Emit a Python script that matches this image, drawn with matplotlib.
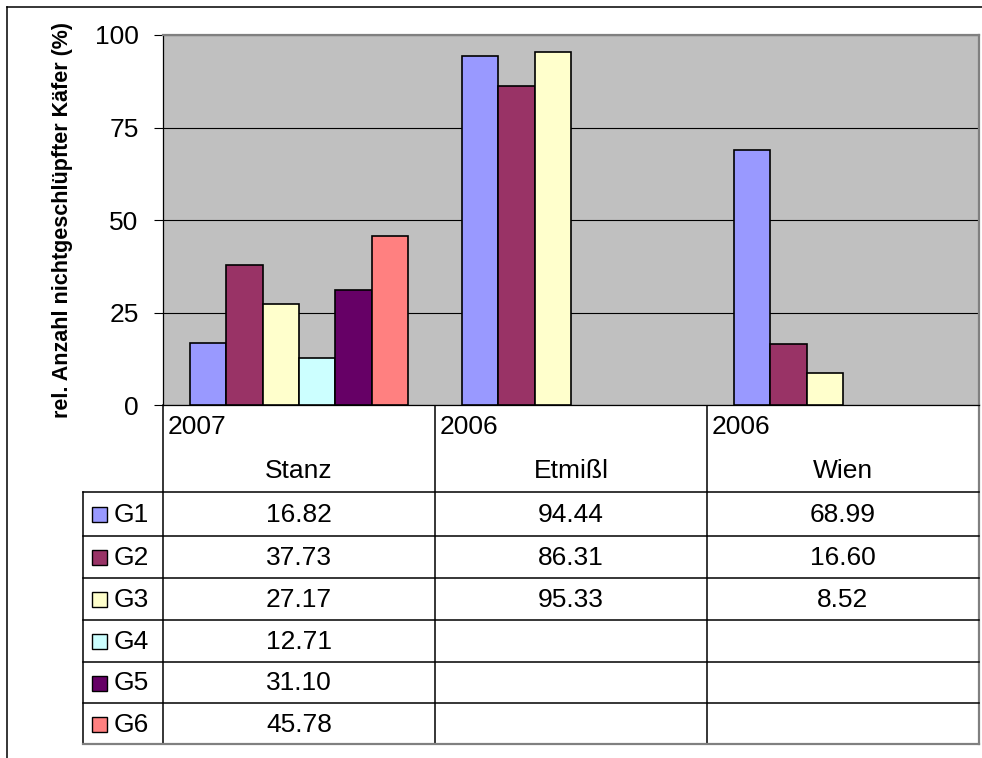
import numpy as np
import matplotlib.pyplot as plt

plt.rcParams['font.family'] = ['Liberation Sans', 'DejaVu Sans']

# data
sites = ['Stanz', 'Etmißl', 'Wien']
years = ['2007', '2006', '2006']
groups = ['G1', 'G2', 'G3', 'G4', 'G5', 'G6']
colors = ['#9999FF', '#993366', '#FFFFCC', '#CCFFFF', '#660066', '#FF8080']
g1 = [16.82, 94.44, 68.99]
g2 = [37.73, 86.31, 16.60]
g3 = [27.17, 95.33, 8.52]
g4 = [12.71, None, None]
g5 = [31.10, None, None]
g6 = [45.78, None, None]
values = [g1, g2, g3, g4, g5, g6]

W, H = 982, 758
FS = 19
fig = plt.figure(figsize=(W / 100, H / 100), dpi=100)


def box(l, t, r, b):
    # pixel box -> figure fractions
    return [l / W, 1 - b / H, (r - l) / W, (b - t) / H]


# plot area
ax = fig.add_axes(box(163, 35, 979, 405))
ax.set_facecolor('#C0C0C0')
x = np.arange(len(sites))
bw = 1 / (len(groups) + 1.5)
for i, (g, c, vals) in enumerate(zip(groups, colors, values)):
    v = np.array([np.nan if s is None else s for s in vals], dtype=float)
    ax.bar(x + (i - 2.5) * bw, v, bw, color=c, edgecolor='black',
           linewidth=1.2, zorder=3)

ax.set_xlim(-0.5, 2.5)
ax.set_ylim(0, 100)
ax.set_yticks([0, 25, 50, 75, 100])
ax.set_xticks([])
ax.yaxis.grid(True, color='black', linewidth=0.8, zorder=1)
ax.set_axisbelow(True)
ax.tick_params(axis='y', labelsize=FS, length=6.5, width=0.8, pad=11)
for s in ['top', 'right']:
    ax.spines[s].set_color('#808080')
    ax.spines[s].set_linewidth(1.6)
ax.spines['left'].set_linewidth(0.9)
ax.spines['bottom'].set_linewidth(0.9)
ax.set_ylabel('rel. Anzahl nichtgeschlüpfter Käfer (%)', fontsize=15.5,
              fontweight='bold', labelpad=16)

# data table underneath, drawn in pixel coordinates
ov = fig.add_axes([0, 0, 1, 1], zorder=-1)
ov.set_xlim(0, W)
ov.set_ylim(H, 0)
ov.axis('off')

cols = [163, 435, 707, 979]
rows = [492, 536, 578, 620, 662, 703, 744]
lk = dict(color='black', linewidth=1.1)

# outer frame
ov.plot([7, 7], [7, H], **lk)
ov.plot([7, W], [7, 7], **lk)

for cx in cols[:-1]:
    ov.plot([cx, cx], [405, rows[-1]], **lk)
ov.plot([cols[-1], cols[-1]], [405, rows[-1]], color='#808080', linewidth=1.6)
ov.plot([83, 83], [rows[0], rows[-1]], **lk)
for ry in rows[:-1]:
    ov.plot([83, cols[-1]], [ry, ry], **lk)
ov.plot([83, cols[-1]], [rows[-1], rows[-1]], color='#808080', linewidth=1.6)

for j, (site, yr) in enumerate(zip(sites, years)):
    ov.text(cols[j] + 5, 427, yr, fontsize=FS, ha='left', va='center')
    ov.text((cols[j] + cols[j + 1]) / 2, 471, site, fontsize=FS,
            ha='center', va='center')

for i, (g, c, vals) in enumerate(zip(groups, colors, values)):
    yc = (rows[i] + rows[i + 1]) / 2
    ov.add_patch(plt.Rectangle((92, yc - 7), 15, 15, facecolor=c,
                               edgecolor='black', linewidth=1.0))
    ov.text(114, yc + 1, g, fontsize=FS, ha='left', va='center')
    for j, v in enumerate(vals):
        if v is not None:
            ov.text((cols[j] + cols[j + 1]) / 2, yc + 1, f'{v:.2f}',
                    fontsize=FS, ha='center', va='center')

fig.savefig('out.png', dpi=100)
